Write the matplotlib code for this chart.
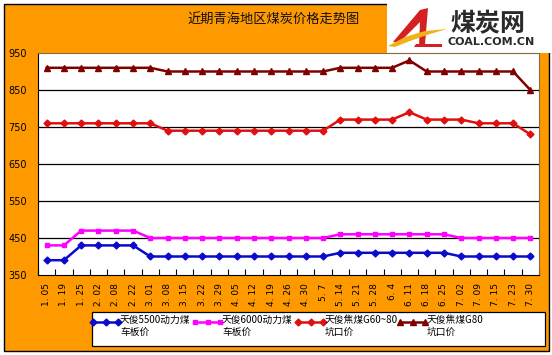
import matplotlib
matplotlib.use("Agg")
import matplotlib.pyplot as plt
from matplotlib.patches import Rectangle, Polygon
from matplotlib.lines import Line2D
import numpy as np

plt.rcParams['font.family'] = ['Noto Sans CJK SC', 'DejaVu Sans']

dates = ["1. 05", "1. 19", "1. 25", "2. 02", "2. 08", "2. 22", "3. 01", "3. 08",
         "3. 15", "3. 22", "3. 29", "4. 05", "4. 12", "4. 19", "4. 26", "4. 30",
         "5. 7", "5. 14", "5. 21", "5. 28", "6. 4", "6. 11", "6. 18", "6. 25",
         "7. 02", "7. 09", "7. 15", "7. 23", "7. 30"]

coal5500 = [390, 390, 430, 430, 430, 430, 400, 400, 400, 400, 400, 400, 400, 400, 400,
            400, 400, 410, 410, 410, 410, 410, 410, 410, 400, 400, 400, 400, 400]
coal6000 = [430, 430, 470, 470, 470, 470, 450, 450, 450, 450, 450, 450, 450, 450, 450,
            450, 450, 460, 460, 460, 460, 460, 460, 460, 450, 450, 450, 450, 450]
cokeG60 = [760, 760, 760, 760, 760, 760, 760, 740, 740, 740, 740, 740, 740, 740, 740,
           740, 740, 770, 770, 770, 770, 790, 770, 770, 770, 760, 760, 760, 730]
cokeG80 = [910, 910, 910, 910, 910, 910, 910, 900, 900, 900, 900, 900, 900, 900, 900,
           900, 900, 910, 910, 910, 910, 930, 900, 900, 900, 900, 900, 900, 850]

labels = ["天俊5500动力煤\n车板价", "天俊6000动力煤\n车板价",
          "天俊焦煤G60~80\n坑口价", "天俊焦煤G80\n坑口价"]
yticks = [350, 450, 550, 650, 750, 850, 950]
title = "近期青海地区煤炭价格走势图"

W, H = 552, 355
fig = plt.figure(figsize=(W / 100, H / 100), dpi=100, facecolor="white")

# background overlay in pixel coordinates
bg = fig.add_axes([0, 0, 1, 1], zorder=0)
bg.set_xlim(0, W)
bg.set_ylim(H, 0)
bg.axis("off")
orange = "#FF9900"
bg.add_patch(Rectangle((4, 4), 545, 347, facecolor=orange, edgecolor="black", lw=1.0))
bg.add_patch(Rectangle((387, 0), 166, 53, facecolor="white", edgecolor="none"))
bg.text(274, 19, title, ha="center", va="center", fontsize=9.5, color="#111111")

# logo
bg.add_patch(Polygon([[393, 42], [420, 10], [428, 8], [425, 44], [419, 46], [420, 22], [400, 42]],
                     closed=True, facecolor="#D42020", edgecolor="none"))
bg.add_patch(Polygon([[388, 46], [405, 37], [425, 31], [447, 29], [430, 34], [410, 41], [395, 47]],
                     closed=True, facecolor="#F2B019", edgecolor="none"))
bg.add_patch(Polygon([[416, 44], [442, 44], [442, 47], [414, 47]],
                     closed=True, facecolor="#D42020", edgecolor="none"))
bg.text(488, 24, "煤炭网", ha="center", va="center", fontsize=18, fontweight="bold",
        color="#2A2A2A")
bg.text(491, 42, "COAL.COM.CN", ha="center", va="center", fontsize=8, fontweight="bold",
        color="#2A2A2A", family=["DejaVu Sans"])

# plot area
top, bottom, left, right = 53, 275, 38, 539
ax = fig.add_axes([left / W, 1 - bottom / H, (right - left) / W, (bottom - top) / H], zorder=2)
ax.set_facecolor("white")
x = np.arange(len(dates))

styles = [dict(color="#0A0ACD", marker="D", ms=3.5),
          dict(color="#FF00FF", marker="s", ms=3),
          dict(color="#E01010", marker="D", ms=3.5),
          dict(color="#800000", marker="^", ms=4.5)]
series = [coal5500, coal6000, cokeG60, cokeG80]
for vals, st, lab in zip(series, styles, labels):
    ax.plot(x, vals, lw=1.8, label=lab, **st)

ax.set_xlim(-0.5, len(dates) - 0.5)
ax.set_ylim(350, 950)
ax.set_yticks(yticks)
ax.set_yticklabels([str(v) for v in yticks], fontsize=7, family=["DejaVu Sans"])
ax.tick_params(axis="y", length=0, pad=8)
for v in yticks[1:-1]:
    ax.axhline(v, color="black", lw=0.9, zorder=1)

ax.set_xticks(x)
ax.set_xticklabels(dates, rotation=90, fontsize=6.5, family=["DejaVu Sans"])
ax.tick_params(axis="x", length=0, pad=6)
ax.set_xticks(np.arange(-0.5, len(dates), 1.0), minor=True)
ax.tick_params(axis="x", which="minor", direction="in", length=4, width=0.8, color="black")

for s in ax.spines.values():
    s.set_color("black")
    s.set_linewidth(0.8)
ax.spines["top"].set_color("#8a6a3a")
ax.spines["right"].set_color("#8a6a3a")

# legend (drawn in pixel coordinates on a top overlay)
lg = fig.add_axes([0, 0, 1, 1], zorder=3)
lg.set_xlim(0, W)
lg.set_ylim(H, 0)
lg.axis("off")
lg.add_patch(Rectangle((92, 312), 453, 34, facecolor="white", edgecolor="black", lw=0.9))
starts = [93, 195, 298, 400]
for x0, st, lab in zip(starts, styles, labels):
    lg.add_line(Line2D([x0, x0 + 25], [322, 322], lw=1.8, **st))
    lg.add_line(Line2D([x0 + 12.5], [322], lw=0, **st))
    lg.text(x0 + 27, 315, lab, ha="left", va="top", fontsize=7, linespacing=1.25,
            color="black")

fig.savefig("out.png", dpi=100, facecolor="white")
